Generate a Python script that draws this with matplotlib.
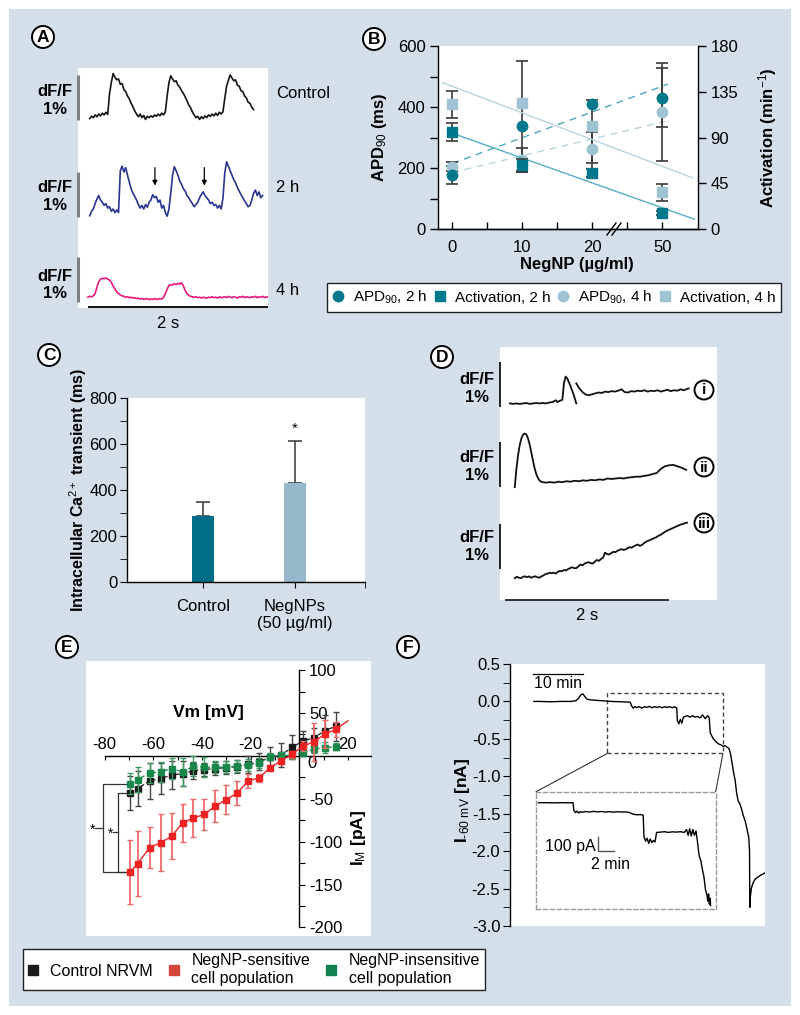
import numpy as np
import matplotlib
matplotlib.use('Agg')
import matplotlib.pyplot as plt
from matplotlib.patches import Rectangle, Ellipse, ConnectionPatch
from matplotlib.lines import Line2D

plt.rcParams['font.family'] = ['Liberation Sans', 'DejaVu Sans']
plt.rcParams['mathtext.fontset'] = 'custom'
plt.rcParams['mathtext.rm'] = 'Liberation Sans'
plt.rcParams['mathtext.it'] = 'Liberation Sans:italic'
plt.rcParams['mathtext.bf'] = 'Liberation Sans:bold'
plt.rcParams['axes.linewidth'] = 1.0

nan = np.nan

# ---------------- Panel A data (dF/F %, sampled every 20 ms) ----------------
A_DT = 0.02
a_ctrl_t0 = 0.02
a_ctrl = [0.0, 0.05, 0.02, 0.08, 0.04, 0.10, 0.06, 0.12, 0.08, 0.14, 0.09,
          0.55, 0.80, 1.0, 0.92, 0.86, 0.88, 0.76, 0.78, 0.64, 0.60, 0.50, 0.44, 0.34, 0.26, 0.17, 0.10, 0.04, 0.10, 0.02, 0.07, -0.02,
          0.05, 0.02, 0.06, 0.03, 0.08, 0.05, 0.10, 0.06, 0.12, 0.08, 0.15,
          0.50, 0.80, 0.95, 0.88, 0.82, 0.84, 0.74, 0.70, 0.62, 0.56, 0.48, 0.40, 0.30, 0.24, 0.15, 0.08, 0.02,
          0.05, -0.02, 0.04, 0.0, 0.06, 0.02, 0.08, 0.05, 0.10, 0.06, 0.12, 0.07, 0.14, 0.10, 0.15,
          0.45, 0.72, 0.85, 0.97, 0.90, 0.84, 0.86, 0.74, 0.72, 0.62, 0.60, 0.50, 0.46, 0.36, 0.34, 0.25, 0.20]
a_2h_t0 = 0.02
a_2h = [-0.05, 0.05, 0.10, 0.22, 0.32, 0.40, 0.30, 0.25, 0.18, 0.22, 0.12, 0.15, 0.05, 0.10, 0.02, 0.08, 0.02,
        0.95, 1.05, 0.92, 1.02, 0.85, 0.70, 0.55, 0.45, 0.38, 0.30, 0.20, 0.12, 0.18, 0.10, 0.20, 0.14, 0.25,
        0.30, 0.42, 0.35, 0.38, 0.25, 0.30, 0.12, 0.18, 0.02, -0.06, 0.10,
        0.45, 0.85, 1.04, 0.95, 0.85, 0.72, 0.65, 0.55, 0.50, 0.40, 0.35, 0.28, 0.22, 0.15, 0.20, 0.25, 0.35,
        0.42, 0.48, 0.40, 0.35, 0.30, 0.22, 0.25, 0.18, 0.20, 0.12, 0.18, 0.10, 0.35,
        0.90, 1.15, 1.05, 0.95, 0.85, 0.75, 0.68, 0.58, 0.50, 0.42, 0.35, 0.28, 0.22, 0.15, 0.18, 0.30, 0.45,
        0.52, 0.40, 0.48, 0.35, 0.40]
a_4h_t0 = 0.0
a_4h = [0.0, 0.02, 0.01, 0.03, 0.08, 0.22, 0.34, 0.40, 0.42, 0.41, 0.43, 0.40, 0.38, 0.33, 0.25, 0.18, 0.12,
        0.08, 0.05, 0.03, 0.02, 0.0, 0.01, -0.01, 0.0, -0.02, -0.01, -0.03, -0.02, -0.04, -0.03, -0.05,
        -0.03, -0.04, -0.05, -0.04, -0.05, -0.03, -0.05, -0.04, -0.03, -0.04, 0.0, 0.08, 0.18, 0.26, 0.28,
        0.27, 0.30, 0.28, 0.31, 0.29, 0.32, 0.25, 0.15, 0.08, 0.04, 0.02, 0.01, 0.0, 0.01, -0.01, 0.0, -0.02,
        0.0, -0.01, -0.02, 0.0, -0.01, 0.01, -0.01, 0.0, -0.02, 0.01, -0.01, 0.0, 0.01, -0.01, 0.02, 0.0,
        -0.01, 0.01, 0.0, -0.02, 0.01, 0.0, 0.02, -0.01, 0.01, 0.0, -0.01, 0.01, 0.0, 0.02, -0.01, 0.01, 0.0,
        0.02, -0.01, 0.01, 0.0]
a_arrow_times = [0.744, 1.293]
a_labels = ['Control', '2 h', '4 h']

# ---------------- Panel B data ----------------
b_conc_labels = ['0', '10', '20', '50']
b_apd_2h = [177, 339, 410, 428]
b_apd_2h_lo = [30, 151, 238, 205]
b_apd_2h_hi = [30, 213, 13, 117]
b_apd_4h = [204, 226, 261, 383]
b_apd_4h_lo = [15, 38, 44, 47]
b_apd_4h_hi = [15, 40, 56, 144]
b_act_2h = [95.4, 63.0, 55.0, 15.4]
b_act_2h_err = [9, 6, 4, 2]
b_act_4h = [122.6, 123.6, 101.0, 36.0]
b_act_4h_err = [13, nan, nan, 8]
b_fit_apd_2h_x, b_fit_apd_2h_y = [0, 3.08], [215, 475]
b_fit_apd_4h_x, b_fit_apd_4h_y = [0, 3.08], [185, 355]
b_fit_act_2h_x, b_fit_act_2h_y = [0, 3.46], [94.2, 9.6]
b_fit_act_4h_x, b_fit_act_4h_y = [-0.14, 3.43], [144.0, 50.4]
b_legend = ['APD$_{90}$, 2 h', 'Activation, 2 h', 'APD$_{90}$, 4 h', 'Activation, 4 h']

# ---------------- Panel C data ----------------
c_groups = ['Control', 'NegNPs\n(50 µg/ml)']
c_vals = [288, 430]
c_err = [60, 181]

# ---------------- Panel D data (time s, dF/F %) ----------------
d_i = [(0.06, 0.0), (0.10, -0.01), (0.14, 0.0), (0.18, -0.01), (0.22, 0.0), (0.26, 0.01), (0.30, -0.01),
       (0.34, 0.0), (0.38, 0.01), (0.42, 0.0), (0.46, 0.01), (0.50, 0.0), (0.54, 0.02), (0.58, 0.03),
       (0.62, 0.07), (0.64, 0.03), (0.66, 0.05), (0.70, 0.08), (0.72, 0.45), (0.74, 0.59), (0.76, 0.55),
       (0.80, 0.38), (0.84, 0.18), (0.87, 0.0), (0.87, nan),
       (0.87, 0.44), (0.90, 0.35), (0.94, 0.26), (0.98, 0.20), (1.02, 0.18), (1.06, 0.20), (1.10, 0.22),
       (1.14, 0.24), (1.18, 0.23), (1.22, 0.26), (1.26, 0.25), (1.30, 0.27), (1.34, 0.26), (1.38, 0.28),
       (1.42, 0.31), (1.46, 0.25), (1.50, 0.24), (1.54, 0.27), (1.58, 0.26), (1.62, 0.28), (1.66, 0.27),
       (1.70, 0.29), (1.74, 0.26), (1.78, 0.28), (1.82, 0.27), (1.86, 0.29), (1.90, 0.26), (1.94, 0.28),
       (1.98, 0.30), (2.02, 0.27), (2.06, 0.29), (2.10, 0.28), (2.14, 0.31), (2.18, 0.29), (2.22, 0.32),
       (2.24, 0.33)]
d_ii = [(0.12, -0.10), (0.14, 0.30), (0.16, 0.60), (0.18, 0.82), (0.20, 0.97), (0.22, 1.05), (0.24, 1.08),
        (0.26, 1.06), (0.28, 0.98), (0.30, 0.85), (0.32, 0.68), (0.34, 0.50), (0.36, 0.33), (0.38, 0.20),
        (0.40, 0.11), (0.42, 0.05), (0.44, 0.02), (0.46, 0.01), (0.50, 0.0), (0.55, 0.01), (0.60, 0.0),
        (0.65, 0.02), (0.70, 0.01), (0.75, 0.03), (0.80, 0.02), (0.85, 0.04), (0.90, 0.03), (0.95, 0.05),
        (1.00, 0.04), (1.05, 0.06), (1.10, 0.05), (1.15, 0.07), (1.20, 0.06), (1.25, 0.09), (1.30, 0.08),
        (1.35, 0.09), (1.40, 0.10), (1.45, 0.09), (1.50, 0.11), (1.55, 0.12), (1.60, 0.13), (1.65, 0.13),
        (1.70, 0.15), (1.75, 0.16), (1.80, 0.19), (1.85, 0.21), (1.90, 0.30), (1.95, 0.36), (2.00, 0.38),
        (2.05, 0.39), (2.10, 0.36), (2.15, 0.33), (2.21, 0.28)]
d_iii_t0, D_DT = 0.12, 0.025
d_iii = [0.0, 0.03, 0.01, 0.0, 0.03, 0.04, 0.02, 0.04, 0.01, 0.03, 0.04, 0.02, 0.01, 0.04, 0.06, 0.09,
         0.10, 0.12, 0.11, 0.12, 0.10, 0.14, 0.16, 0.15, 0.18, 0.17, 0.20, 0.22, 0.24, 0.22, 0.22, 0.26,
         0.30, 0.28, 0.32, 0.34, 0.35, 0.33, 0.32, 0.36, 0.40, 0.38, 0.42, 0.45, 0.56, 0.53, 0.52, 0.55,
         0.58, 0.57, 0.60, 0.62, 0.64, 0.62, 0.63, 0.66, 0.68, 0.67, 0.70, 0.72, 0.74, 0.71, 0.73, 0.77,
         0.80, 0.82, 0.84, 0.86, 0.88, 0.90, 0.93, 0.95, 0.98, 1.01, 1.04, 1.06, 1.08, 1.10, 1.12, 1.14,
         1.16, 1.18, 1.19, 1.21, 1.22]
d_labels = ['i', 'ii', 'iii']

# ---------------- Panel E data ----------------
e_vm = [-69.5, -66.5, -61.5, -57, -52.5, -48, -43.5, -39, -34.5, -30, -25.5, -21, -16.5, -12, -7.5, -3,
        1.5, 6, 10.5, 15]
e_ctrl = [-43.2, -38.1, -29.2, -26.4, -22.5, -20.6, -17.5, -15.9, -14.8, -13.6, -12.5, -9.7, -7.0, -1.2,
          0.8, 9.8, 17.5, 21.0, 29.2, 34.7]
e_ctrl_err = [20, 20, 21, 18, 16, 15, 10, 8, 8, 8, 8, 10, 10, 12, 14, 14, 12, 12, 18, 17]
e_sens_vm = [-69.5, -66.5, -61.5, -57, -52.5, -48, -43.5, -39, -34.5, -30, -25.5, -21, -16.5, -12, -7.5,
             -3, 1.5, 6, 10.5, 15, 20]
e_sens = [-135.4, -125.7, -107.0, -101.2, -93.8, -78.2, -72.4, -68.1, -58.4, -51.0, -43.2, -29.2, -25.7,
          -13.6, -6.2, 2.0, 11.3, 16.4, 25.3, 30.8, 40.9]
e_sens_err = [37, 38, 24, 33, 27, 22, 22, 18, 19, 17, 14, 8, 5, 3, 3, 4, 6, 22, 16, 9, nan]
e_ins = [-32.3, -27.6, -19.8, -18.7, -14.8, -18.7, -12.0, -13.2, -13.2, -13.2, -12.0, -10.9, -8.2, -1.2,
         0.0, 0.8, 3.9, 7.8, 9.7, 10.5]
e_ins_err = [12, 15, 12, 12, 12, 16, 12, 12, 7, 7, 7, 7, 6, 4, 4, 4, 3, 4, 6, 4]
e_legend = ['Control NRVM', 'NegNP-sensitive\ncell population', 'NegNP-insensitive\ncell population']

# ---------------- Panel F data (time min, current nA / pA) ----------------
f_trace = [(4.7, 0.0), (6, 0.0), (8, -0.005), (10, 0.0), (12, 0.0), (13, 0.01), (13.5, 0.04), (14.0, 0.09),
           (14.4, 0.10), (14.8, 0.06), (15.2, 0.03), (16, 0.02), (18, 0.01), (20, 0.0), (22, -0.005),
           (23.7, -0.01), (24.0, -0.06), (24.3, -0.09), (24.6, -0.07), (25, -0.08), (25.5, -0.07),
           (26, -0.09), (26.5, -0.07), (27, -0.08), (27.5, -0.065), (28, -0.085), (28.5, -0.07), (29, -0.08),
           (29.5, -0.07), (30, -0.085), (30.5, -0.07), (31, -0.08), (31.5, -0.07), (32, -0.085), (32.5, -0.07),
           (32.9, -0.09), (33.0, -0.25), (33.3, -0.30), (33.6, -0.24), (33.9, -0.29), (34.2, -0.21),
           (34.6, -0.20), (35, -0.19), (35.5, -0.21), (36, -0.19), (36.5, -0.21), (37, -0.20), (37.5, -0.22),
           (38, -0.18), (38.5, -0.23), (39, -0.19), (39.3, -0.22), (39.5, -0.42), (39.8, -0.46), (40.1, -0.50),
           (40.4, -0.52), (40.8, -0.55), (41.2, -0.57), (41.6, -0.58), (42.0, -0.60), (42.4, -0.59),
           (42.8, -0.61), (43.2, -0.63), (43.5, -0.70), (43.8, -0.82), (44.1, -0.95), (44.4, -1.05),
           (44.7, -1.22), (45.0, -1.33), (45.3, -1.36), (45.6, -1.42), (46.0, -1.52), (46.4, -1.60),
           (46.8, -1.72), (47.1, -1.82), (47.25, -2.00), (47.3, -2.75), (47.4, -2.62), (47.6, -2.50),
           (47.9, -2.43), (48.3, -2.38), (48.8, -2.35), (49.5, -2.32), (50.3, -2.29)]
f_zoom_t = [19.2, 42.0]
f_zoom_nA = [-0.695, 0.108]
f_inset = [(19.5, 33), (20.5, 33), (21.5, 32), (22.5, 33), (23.5, 32), (23.9, 33), (24.0, -20), (24.2, -35),
           (24.4, -25), (24.6, -38), (24.8, -28), (25.0, -33), (25.5, -27), (26, -31), (26.5, -26), (27, -30),
           (27.5, -27), (28, -31), (28.5, -28), (29, -32), (29.5, -29), (30, -31), (30.5, -30), (31, -33),
           (31.5, -45), (32, -50), (32.4, -48), (32.8, -52), (32.9, -200), (33.1, -230), (33.3, -210),
           (33.5, -245), (33.7, -215), (33.9, -240), (34.1, -225), (34.3, -235), (34.5, -170), (35, -168),
           (35.5, -165), (36, -170), (36.5, -166), (37, -168), (37.5, -165), (38, -170), (38.3, -150),
           (38.5, -190), (38.7, -145), (38.9, -195), (39.1, -150), (39.3, -190), (39.5, -160), (39.7, -240),
           (39.9, -330), (40.1, -360), (40.3, -420), (40.5, -470), (40.7, -560), (40.9, -600), (41.0, -640),
           (41.1, -590), (41.2, -660), (41.3, -620), (41.35, -670)]

# ======================= drawing =======================
W, H = 800, 1015
fig = plt.figure(figsize=(W / 100, H / 100), dpi=100)
fig.patch.set_facecolor('white')


def R(x0, y0, x1, y1):
    return [x0 / W, 1 - y1 / H, (x1 - x0) / W, (y1 - y0) / H]


def ftext(x, y, s, **kw):
    return fig.text(x / W, 1 - y / H, s, **kw)


def fline(xs, ys, **kw):
    fig.add_artist(Line2D([x / W for x in xs], [1 - y / H for y in ys], transform=fig.transFigure, **kw))


def clean(ax):
    for s in ax.spines.values():
        s.set_visible(False)
    ax.set_xticks([])
    ax.set_yticks([])


def circ_label(x, y, s, d=22, fs=12.5):
    fig.add_artist(Ellipse((x / W, 1 - y / H), d / W, d / H, transform=fig.transFigure,
                           fc='white', ec='black', lw=1.4, zorder=4))
    ftext(x, y + 0.5, s, ha='center', va='center', fontweight='bold', fontsize=fs, zorder=5)


fig.add_artist(Rectangle((9 / W, 1 - 1006 / H), 782 / W, 997 / H, transform=fig.transFigure,
                         fc='#d5dfea', ec='none', zorder=-10))

# ---------------- Panel A ----------------
axA = fig.add_axes(R(78, 68, 268, 308))
clean(axA)
axA.set_facecolor('white')
axA.set_xlim(-0.11, 2.0)
axA.set_ylim(0, 240 / 45)
a_offsets = [4.21, 2.10, 0.24]
a_bar_bottoms = [4.18, 2.02, 0.13]
a_colors = ['#151515', '#2b3590', '#e8197d']
for vals, t0, off, col in zip([a_ctrl, a_2h, a_4h], [a_ctrl_t0, a_2h_t0, a_4h_t0], a_offsets, a_colors):
    t = t0 + A_DT * np.arange(len(vals))
    axA.plot(t, np.array(vals) + off, color=col, lw=1.2)
for b in a_bar_bottoms:
    axA.plot([-0.108, -0.108], [b, b + 1.0], color='#808080', lw=2.2, clip_on=False, solid_capstyle='butt')
for ta in a_arrow_times:
    axA.annotate('', xy=(ta, a_offsets[1] + 0.62), xytext=(ta, a_offsets[1] + 1.02),
                 arrowprops=dict(arrowstyle='-|>', color='k', lw=0.9, mutation_scale=7, shrinkA=0, shrinkB=0))
axA.plot([0, 2.0], [0.02, 0.02], color='k', lw=1.3, clip_on=False, solid_capstyle='butt')
ftext(168, 323, '2 s', ha='center', va='center', fontsize=12)
for lab, yc in zip(a_labels, [93, 187, 291]):
    ftext(276, yc, lab, ha='left', va='center', fontsize=12)
for y1, y2 in [(92, 110), (188, 206), (276, 293)]:
    ftext(55, y1, 'dF/F', ha='center', va='center', fontsize=12, fontweight='bold')
    ftext(55, y2, '1%', ha='center', va='center', fontsize=12, fontweight='bold')
circ_label(43, 37, 'A')

# ---------------- Panel B ----------------
dark, light = '#00788c', '#a0c3d3'
axB = fig.add_axes(R(438, 46, 698, 229))
axB.set_facecolor('white')
axB.set_xlim(-0.205, 3.51)
axB.set_ylim(0, 600)
axB2 = axB.twinx()
axB2.set_ylim(0, 180)
for a in (axB, axB2):
    a.spines['top'].set_visible(False)
axB.spines['right'].set_visible(False)
axB2.spines['left'].set_visible(False)
xb = np.arange(len(b_conc_labels))
axB.plot(b_fit_apd_2h_x, b_fit_apd_2h_y, color='#4fa7bf', lw=1.0, ls=(0, (5, 4)), zorder=2)
axB.plot(b_fit_apd_4h_x, b_fit_apd_4h_y, color='#b7d5df', lw=1.0, ls=(0, (5, 4)), zorder=2)
axB2.plot(b_fit_act_2h_x, b_fit_act_2h_y, color='#57adc4', lw=1.0, zorder=2)
axB2.plot(b_fit_act_4h_x, b_fit_act_4h_y, color='#b7d5df', lw=1.0, zorder=2)
eb_kw = dict(ecolor='#3a3a3a', elinewidth=1.2, capsize=4, capthick=1.2, ls='none', zorder=3)
axB.errorbar(xb, b_apd_4h, yerr=[b_apd_4h_lo, b_apd_4h_hi], marker='o', color=light, ms=7.5, **eb_kw)
axB.errorbar(xb, b_apd_2h, yerr=[b_apd_2h_lo, b_apd_2h_hi], marker='o', color=dark, ms=7.5, **eb_kw)
axB2.errorbar(xb, b_act_4h, yerr=b_act_4h_err, marker='s', color=light, ms=7, **eb_kw)
axB2.errorbar(xb, b_act_2h, yerr=b_act_2h_err, marker='s', color=dark, ms=7, **eb_kw)
axB.set_xticks(xb)
axB.set_xticklabels(b_conc_labels)
axB.set_xticks([0.5, 1.5, 2.5], minor=True)
axB.tick_params(axis='x', which='both', direction='in', length=5, width=1, labelsize=12, pad=8)
axB.set_yticks([0, 200, 400, 600])
axB.set_yticks([100, 300, 500], minor=True)
axB.tick_params(axis='y', which='both', direction='out', length=6, width=1, labelsize=12, pad=3)
axB2.set_yticks([0, 45, 90, 135, 180])
axB2.tick_params(axis='y', direction='out', length=6, width=1, labelsize=12, pad=3)
axB.set_ylabel('APD$_{90}$ (ms)', fontsize=12, fontweight='bold', labelpad=6)
axB2.set_ylabel('Activation (min$^{-1}$)', fontsize=12, fontweight='bold', labelpad=13)
ftext(577, 264, 'NegNP (µg/ml)', ha='center', va='center', fontsize=12, fontweight='bold')
for dx in (0, 5):
    fline([607 + dx, 616 + dx], [235, 223], color='k', lw=1.0)
hB = [Line2D([], [], marker='o', ls='none', color=dark, ms=7.5),
      Line2D([], [], marker='s', ls='none', color=dark, ms=6.5),
      Line2D([], [], marker='o', ls='none', color=light, ms=7.5),
      Line2D([], [], marker='s', ls='none', color=light, ms=6.5)]
legB = fig.legend(hB, b_legend, loc='center', bbox_to_anchor=(554 / W, 1 - 297.5 / H), ncol=4,
                  fontsize=11, frameon=True, fancybox=False, edgecolor='#222', framealpha=1,
                  handlelength=0.7, handletextpad=0.6, columnspacing=0.5, borderpad=0.4)
legB.get_frame().set_linewidth(1.0)
circ_label(374, 39, 'B')

# ---------------- Panel C ----------------
axC = fig.add_axes(R(127, 398, 365, 582))
axC.set_facecolor('white')
axC.set_xlim(-0.82, 1.757)
axC.set_ylim(0, 800)
axC.spines['top'].set_visible(False)
axC.spines['right'].set_visible(False)
xc = np.arange(len(c_groups))
axC.bar(xc, c_vals, width=0.24, color=['#006e86', '#95b8ca'], zorder=2)
axC.errorbar(xc, c_vals, yerr=[[0] * len(c_err), c_err], ls='none', ecolor='#444', elinewidth=1.2,
             capsize=5, capthick=1.2, zorder=1)
axC.text(1, 665, '*', ha='center', va='center', fontsize=11)
axC.set_xticks(xc)
axC.set_xticklabels(c_groups)
axC.set_xticks([1.757], minor=True)
axC.tick_params(axis='x', which='both', direction='out', length=4, labelsize=12, pad=8)
axC.set_yticks(range(0, 801, 200))
axC.set_yticks(range(100, 800, 200), minor=True)
axC.tick_params(axis='y', which='both', direction='out', length=5, labelsize=12, pad=2)
ftext(78, 490, 'Intracellular Ca$^{2+}$ transient (ms)', rotation=90, ha='center', va='center',
      fontsize=11.5, fontweight='bold')
circ_label(49, 355, 'C')

# ---------------- Panel D ----------------
axD = fig.add_axes(R(500, 347, 717, 600))
clean(axD)
axD.set_facecolor('white')
axD.set_xlim(-0.06, 2.585)
axD.set_ylim(0, 253 / 45.5)
d_offsets = [4.32, 2.58, 0.48]
d_bar_bottoms = [4.24, 2.48, 0.68]
ti, vi = zip(*d_i)
axD.plot(ti, np.array(vi) + d_offsets[0], color='#111', lw=1.3)
tii, vii = zip(*d_ii)
axD.plot(tii, np.array(vii) + d_offsets[1], color='#111', lw=1.3)
tiii = d_iii_t0 + D_DT * np.arange(len(d_iii))
axD.plot(tiii, np.array(d_iii) + d_offsets[2], color='#111', lw=1.3)
for b in d_bar_bottoms:
    axD.plot([-0.055, -0.055], [b, b + 1.0], color='#222', lw=1.4, clip_on=False, solid_capstyle='butt')
axD.plot([0, 2.0], [0.0, 0.0], color='#222', lw=1.3, clip_on=False, solid_capstyle='butt')
ftext(587, 615, '2 s', ha='center', va='center', fontsize=12)
for y1, y2 in [(380, 398), (457, 475), (538, 556)]:
    ftext(477, y1, 'dF/F', ha='center', va='center', fontsize=12, fontweight='bold')
    ftext(477, y2, '1%', ha='center', va='center', fontsize=12, fontweight='bold')
for lab, yc in zip(d_labels, [390, 467, 523]):
    circ_label(704, yc, lab, d=19, fs=11)
circ_label(442, 357, 'D')

# ---------------- Panel E ----------------
axE = fig.add_axes(R(86, 661, 371, 936))
axE.set_facecolor('white')
axE.set_xlim(-87.7, 29.5)
axE.set_ylim(-210, 110.6)
axE.spines['left'].set_visible(False)
axE.spines['bottom'].set_visible(False)
axE.spines['top'].set_position(('data', 0))
axE.spines['top'].set_bounds(-80, 29.5)
axE.spines['right'].set_position(('data', 0))
axE.spines['right'].set_bounds(-200, 100)
axE.xaxis.set_ticks_position('top')
axE.yaxis.set_ticks_position('right')
axE.set_xticks(range(-80, 21, 10))
axE.set_xticklabels(['-80', '', '-60', '', '-40', '', '-20', '', '', '', '20'])
axE.tick_params(axis='x', direction='in', length=3, labelsize=12, pad=3)
axE.set_yticks(range(-200, 101, 25))
axE.set_yticklabels([str(v) if (v % 50 == 0 and v != 0) else '' for v in range(-200, 101, 25)])
axE.tick_params(axis='y', direction='out', length=4, labelsize=12, pad=3)
axE.text(3.2, -9, '0', ha='left', va='center', fontsize=12)
red, blk, grn = '#ee2222', '#1a1a1a', '#17874a'
axE.errorbar(e_vm, e_ctrl, yerr=e_ctrl_err, color=blk, marker='s', ms=4, lw=0.9, ls=(0, (3, 2)),
             ecolor='#444', elinewidth=1.0, capsize=2.5, capthick=1.0, zorder=3)
axE.errorbar(e_vm, e_ins, yerr=e_ins_err, color=grn, marker='s', ms=4, lw=0.9, ls=(0, (3, 2)),
             ecolor='#3c9a62', elinewidth=1.0, capsize=2.5, capthick=1.0, zorder=4)
axE.errorbar(e_sens_vm, e_sens, yerr=e_sens_err, color=red, marker='s', ms=4, lw=1.0,
             markevery=list(range(len(e_sens_vm) - 1)),
             ecolor='#f06a6a', elinewidth=1.3, capsize=2.5, capthick=1.0, zorder=5)
# significance brackets (from the -70 mV values)
for xb_, top, xs in [(-80.8, e_ins[0], -85.0), (-74.4, e_ctrl[0], -77.8)]:
    bot = e_sens[0]
    axE.plot([-71.3, xb_, xb_, -71.3], [top, top, bot, bot], color='#333', lw=0.9, clip_on=False)
    mid = (top + bot) / 2
    axE.plot([xs + 1.2, xb_], [mid, mid], color='#333', lw=0.9, clip_on=False)
    axE.text(xs, mid - 2, '*', ha='center', va='center', fontsize=10)
ftext(208, 712, 'Vm [mV]', ha='center', va='center', fontsize=12.5, fontweight='bold')
ftext(359, 838, 'I$_\\mathrm{M}$ [pA]', rotation=90, ha='center', va='center', fontsize=12.5,
      fontweight='bold')
hE = [Line2D([], [], marker='s', ls='none', color='#1a1a1a', ms=7),
      Line2D([], [], marker='s', ls='none', color='#d2463c', ms=7),
      Line2D([], [], marker='s', ls='none', color='#128050', ms=7)]
legE = fig.legend(hE, e_legend, loc='center', bbox_to_anchor=(254 / W, 1 - 969.5 / H), ncol=3,
                  fontsize=11.5, frameon=True, fancybox=False, edgecolor='#222', framealpha=1,
                  handlelength=0.6, handletextpad=0.8, columnspacing=1.0, borderpad=0.3,
                  labelspacing=0.2)
legE.get_frame().set_linewidth(1.0)
circ_label(67, 647, 'E')

# ---------------- Panel F ----------------
axF = fig.add_axes(R(510, 664, 765, 926))
axF.set_facecolor('white')
axF.set_xlim(0, 50.3)
axF.set_ylim(-3.0, 0.5)
for s in ('top', 'right', 'bottom'):
    axF.spines[s].set_visible(False)
axF.set_xticks([])
axF.set_yticks(np.arange(-3.0, 0.51, 0.5))
axF.set_yticklabels(['%.1f' % v for v in np.arange(-3.0, 0.51, 0.5)])
axF.set_yticks(np.arange(-2.75, 0.5, 0.5), minor=True)
axF.tick_params(axis='y', which='both', direction='out', length=5, labelsize=12, pad=2)
tf, vf = zip(*f_trace)
axF.plot(tf, vf, color='k', lw=1.0)
axF.plot([4.48, 14.46], [0.366, 0.366], color='k', lw=0.9)
axF.text(9.47, 0.345, '10 min', ha='center', va='top', fontsize=11.5)
axF.add_patch(Rectangle((f_zoom_t[0], f_zoom_nA[0]), f_zoom_t[1] - f_zoom_t[0], f_zoom_nA[1] - f_zoom_nA[0],
                        fill=False, ec='#444', lw=1.0, ls=(0, (3, 2))))
axI = fig.add_axes(R(536, 791.7, 715.7, 909.3))
axI.set_facecolor('white')
axI.patch.set_alpha(0)
axI.set_xticks([])
axI.set_yticks([])
for s in axI.spines.values():
    s.set_edgecolor('#999')
    s.set_linestyle((0, (3, 2)))
    s.set_linewidth(1.0)
axI.set_xlim(*f_zoom_t)
axI.set_ylim(f_zoom_nA[0] * 1000, f_zoom_nA[1] * 1000)
tI, vI = zip(*f_inset)
axI.plot(tI, vI, color='k', lw=1.0)
axI.plot([27.1, 27.1, 29.1], [-200, -300, -300], color='#555', lw=1.0)
axI.text(26.8, -268, '100 pA', ha='right', va='center', fontsize=11.5)
axI.text(28.6, -392, '2 min', ha='center', va='center', fontsize=11.5)
for xa, xin in [(f_zoom_t[0], 0), (f_zoom_t[1], 1)]:
    fig.add_artist(ConnectionPatch(xyA=(xa, f_zoom_nA[0]), coordsA=axF.transData,
                                   xyB=(xin, 1), coordsB=axI.transAxes, color='#333', lw=0.8))
ftext(462, 800, 'I$_{\\text{-60 mV}}$ [nA]', rotation=90, ha='center', va='center', fontsize=12.5,
      fontweight='bold')
circ_label(408, 647, 'F')

fig.savefig('out.png', dpi=100, facecolor='white')
